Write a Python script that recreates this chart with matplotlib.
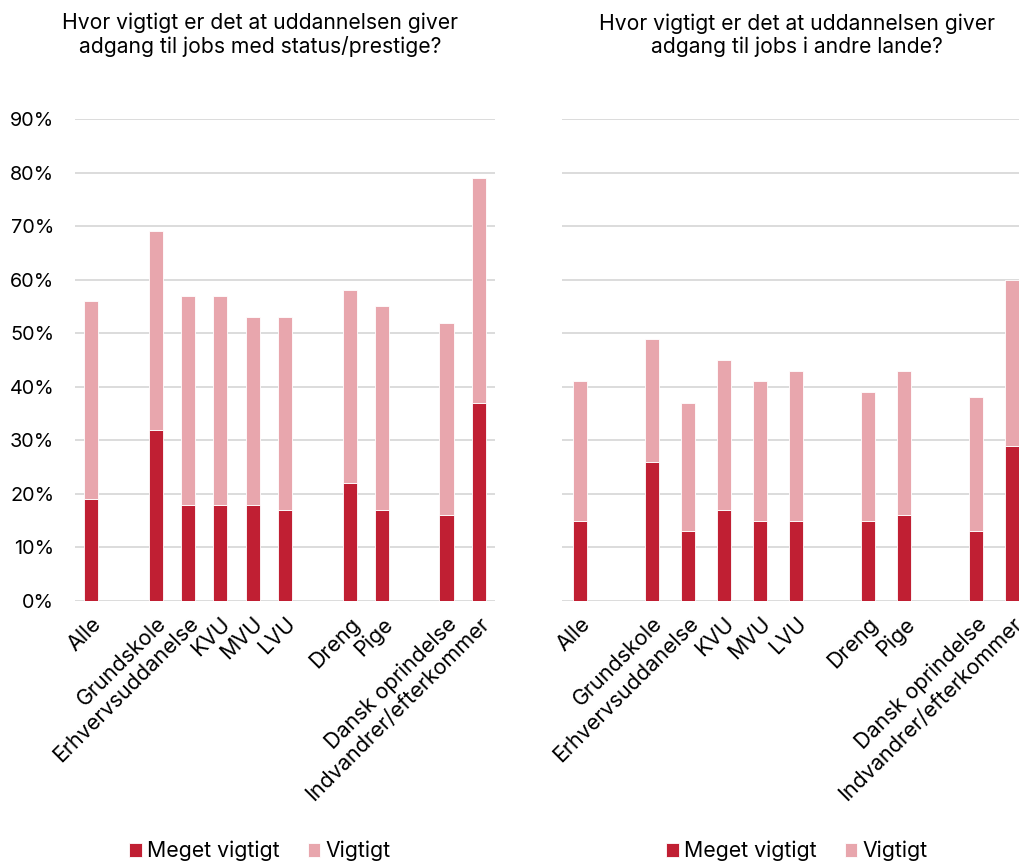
import numpy as np
from matplotlib import pyplot as plt

plt.rcParams['font.family'] = ['Inter', 'DejaVu Sans']

categories = ["Alle", "", "Grundskole", "Erhvervsuddanelse", "KVU", "MVU", "LVU", "",
              "Dreng", "Pige", "", "Dansk oprindelse", "Indvandrer/efterkommer"]

# left panel: status/prestige
status_meget = [19, None, 32, 18, 18, 18, 17, None, 22, 17, None, 16, 37]
status_total = [56, None, 69, 57, 57, 53, 53, None, 58, 55, None, 52, 79]

# right panel: jobs in other countries
udland_meget = [15, None, 26, 13, 17, 15, 15, None, 15, 16, None, 13, 29]
udland_total = [41, None, 49, 37, 45, 41, 43, None, 39, 43, None, 38, 60]

titles = ["Hvor vigtigt er det at uddannelsen giver\nadgang til jobs med status/prestige?",
          "Hvor vigtigt er det at uddannelsen giver\nadgang til jobs i andre lande?"]

DARK = "#C01F33"
LIGHT = "#E8A6AD"

fig = plt.figure(figsize=(10.2, 8.63), dpi=100)

panels = [
    (fig.add_axes([75/1020, 1-601/863, 420/1020, (601-119)/863]), status_meget, status_total, 0.44, 260),
    (fig.add_axes([562/1020, 1-601/863, 468/1020, (601-119)/863]), udland_meget, udland_total, 0.40, 797),
]

for i, (ax, meget, total, width, cx) in enumerate(panels):
    x = np.arange(len(categories))
    m = np.array([np.nan if v is None else v for v in meget], dtype=float) / 100
    t = np.array([np.nan if v is None else v for v in total], dtype=float) / 100
    ax.bar(x, m, width, color=DARK, edgecolor="white", linewidth=0.6, label="Meget vigtigt", zorder=3)
    ax.bar(x, t - m, width, bottom=m, color=LIGHT, edgecolor="white", linewidth=0.6, label="Vigtigt", zorder=3)

    ax.set_xlim(-0.5, len(categories) - 0.5)
    ax.set_ylim(0, 0.9)
    ax.set_yticks(np.arange(0, 0.91, 0.1))
    ax.grid(axis="y", color="#D9D9D9", linewidth=1.3, zorder=0)
    for s in ax.spines.values():
        s.set_visible(False)
    ax.tick_params(length=0)
    if i == 0:
        ax.set_yticklabels([f"{int(round(v*100))}%" for v in ax.get_yticks()], fontsize=14.3)
        ax.tick_params(axis="y", pad=15)
    else:
        ax.set_yticklabels([])

    keep = [j for j, c in enumerate(categories) if c]
    ax.set_xticks(keep)
    ax.set_xticklabels([categories[j] for j in keep], rotation=45, ha="right",
                       rotation_mode="anchor", fontsize=15.5)
    ax.tick_params(axis="x", pad=9)

    fig.text(cx / 1020, 1 - 35 / 863, titles[i], ha="center", va="center",
             fontsize=15.2, linespacing=1.15)

    handles, labels = ax.get_legend_handles_labels()
    fig.legend(handles, labels, loc="center", bbox_to_anchor=(cx / 1020, 1 - 851 / 863),
               ncol=2, frameon=False, fontsize=15.3, handlelength=0.6, handleheight=0.6,
               handletextpad=0.25, columnspacing=1.3)

fig.savefig("out.png", dpi=100)
